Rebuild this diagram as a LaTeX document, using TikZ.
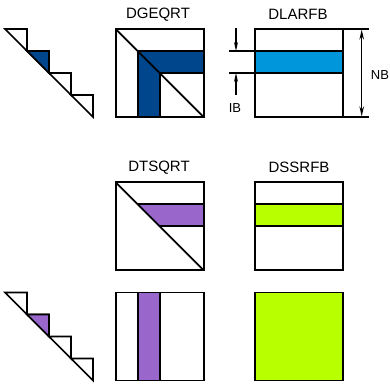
\documentclass[tikz,border=0pt]{standalone}
\usepackage{fontspec}
\setmainfont{Liberation Sans}
\usetikzlibrary{arrows.meta}
\definecolor{dkblue}{RGB}{0,70,140}
\definecolor{ltblue}{RGB}{0,150,220}
\definecolor{purp}{RGB}{153,102,204}
\definecolor{lgreen}{RGB}{184,255,0}
\begin{document}
\begin{tikzpicture}[x=1pt,y=-1pt,line width=1.7pt,line join=miter,
  title/.style={font=\fontsize{15}{15}\selectfont,inner sep=0pt},
  dimlabel/.style={font=\fontsize{13}{13}\selectfont,inner sep=0pt},
  dimarrow/.style={line width=1.3pt,-{Stealth[length=9pt,width=4pt]}},
  dimarrows/.style={line width=1.5pt,{Stealth[length=10pt,width=4.5pt]}-{Stealth[length=10pt,width=4.5pt]}}]
\useasboundingbox (0,0) rectangle (390,383);
% staircases
\foreach \oy/\col in {29/dkblue,292.5/purp}{
  \foreach \k in {0,1,2,3}{
    \draw ({5+22*\k},{\oy+22*\k}) -- ({27+22*\k},{\oy+22*\k}) -- ({27+22*\k},{\oy+22+22*\k}) -- cycle;
  }
  \filldraw[fill=\col] (27,{\oy+22}) -- (49,{\oy+22}) -- (49,{\oy+44}) -- cycle;
}
% DGEQRT
\begin{scope}[shift={(115.7,29)}]
  \fill[dkblue] (22,22) rectangle (88,44);
  \fill[dkblue] (22,22) rectangle (44,88);
  \draw (0,0) rectangle (88,88);
  \draw (22,88) -- (22,22) -- (88,22);
  \draw (44,88) -- (44,44) -- (88,44);
  \draw (0,0) -- (88,88);
\end{scope}
\node[title] (tgeqrt) at (158,14.5) {DGEQRT};
% DLARFB
\begin{scope}[shift={(255,29)}]
  \fill[ltblue] (0,22) rectangle (88,44);
  \draw (0,0) rectangle (88,88);
\end{scope}
\draw (229,51) -- (343,51);
\draw (229,73) -- (343,73);
\draw (343,29) -- (369,29);
\draw (343,117) -- (369,117);
\coordinate (nbtop) at (361.7,29.5);
\coordinate (nbbot) at (361.7,116.5);
\draw[dimarrows] (nbtop) -- (nbbot);
\coordinate (ibA) at (236,28);
\coordinate (ibAe) at (236,51);
\coordinate (ibB) at (236,95);
\coordinate (ibBe) at (236,73);
\draw[dimarrow] (ibA) -- (ibAe);
\draw[dimarrow] (ibB) -- (ibBe);
\node[dimlabel] (nb) at (380,75) {NB};
\node[dimlabel] (ib) at (235,108) {IB};
\node[title] (tlarfb) at (298,14.5) {DLARFB};
% DTSQRT
\begin{scope}[shift={(115.7,182.3)}]
  \fill[purp] (22,22) -- (88,22) -- (88,44) -- (44,44) -- cycle;
  \draw (0,0) rectangle (88,88);
  \draw (22,22) -- (88,22);
  \draw (44,44) -- (88,44);
  \draw (0,0) -- (88,88);
\end{scope}
\node[title] (ttsqrt) at (159,167.5) {DTSQRT};
% DSSRFB
\begin{scope}[shift={(255,182.3)}]
  \fill[lgreen] (0,22) rectangle (88,44);
  \draw (0,0) rectangle (88,88);
  \draw (0,22) -- (88,22);
  \draw (0,44) -- (88,44);
\end{scope}
\node[title] (tssrfb) at (299,167.5) {DSSRFB};
% bottom row
\begin{scope}[shift={(115.7,292.5)}]
  \fill[purp] (22,0) rectangle (44,88);
  \draw (0,0) rectangle (88,88);
  \draw (22,0) -- (22,88);
  \draw (44,0) -- (44,88);
\end{scope}
\begin{scope}[shift={(255,292.5)}]
  \filldraw[fill=lgreen] (0,0) rectangle (88,88);
\end{scope}
\end{tikzpicture}
\end{document}
